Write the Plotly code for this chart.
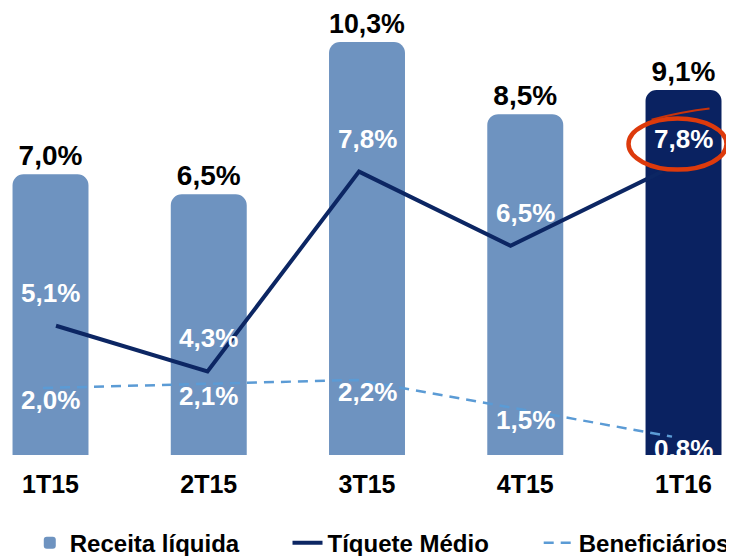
import plotly.graph_objects as go

categories = ["1T15", "2T15", "3T15", "4T15", "1T16"]
receita_liquida = [7.0, 6.5, 10.3, 8.5, 9.1]
tiquete_medio = [5.1, 4.3, 7.8, 6.5, 7.8]
beneficiarios = [2.0, 2.1, 2.2, 1.5, 0.8]

FONT = "Liberation Sans, Arial, sans-serif"
LIGHT_BAR = "#6e93c0"
DARK_BAR = "#0a2261"
NAVY = "#0c2663"
DASH_BLUE = "#5b9bd5"

def fmt(v):
    return f"{v:.1f}".replace(".", ",") + "%"

bar_colors = [LIGHT_BAR] * (len(categories) - 1) + [DARK_BAR]

fig = go.Figure()

fig.add_trace(go.Bar(
    x=categories, y=receita_liquida, name="Receita líquida",
    marker=dict(color=bar_colors, cornerradius=11, line=dict(width=0)),
    width=0.48,
    text=[fmt(v) for v in receita_liquida], textposition="outside",
    textfont=dict(family=FONT, size=28, color="black", weight="bold"),
    cliponaxis=False, xaxis="x", yaxis="y", legend="legend",
))

fig.add_trace(go.Scatter(
    x=categories, y=tiquete_medio, name="Tíquete Médio", mode="lines",
    line=dict(color=NAVY, width=4),
    xaxis="x2", yaxis="y2", legend="legend2",
))

fig.add_trace(go.Scatter(
    x=categories, y=beneficiarios, name="Beneficiários", mode="lines",
    line=dict(color=DASH_BLUE, width=2.5, dash="10px,7px"),
    xaxis="x3", yaxis="y3", legend="legend3",
))

annotations = []
for c, v in zip(categories, tiquete_medio):
    annotations.append(dict(
        x=c, y=v, xref="x", yref="y2", yshift=33, text=fmt(v), showarrow=False,
        font=dict(family=FONT, size=26, color="white", weight="bold"),
    ))
for c, v in zip(categories, beneficiarios):
    annotations.append(dict(
        x=c, y=v, xref="x", yref="y3", yshift=-12, text=fmt(v), showarrow=False,
        font=dict(family=FONT, size=26, color="white", weight="bold"),
    ))

last = len(categories) - 1
shapes = [
    dict(type="circle", xref="x", yref="y2",
         xsizemode="pixel", ysizemode="pixel",
         xanchor=last, yanchor=tiquete_medio[-1],
         x0=-55, x1=43, y0=2, y1=53,
         line=dict(color="#dd3a0c", width=4.5), layer="above"),
    dict(type="path", xref="x", yref="y2",
         xsizemode="pixel", ysizemode="pixel",
         xanchor=last, yanchor=tiquete_medio[-1],
         path="M-32,52 Q0,60 26,63",
         line=dict(color="#c8330a", width=2), layer="above"),
]

legend_common = dict(orientation="h", yanchor="middle", xanchor="left", y=-0.197,
                     font=dict(family=FONT, size=24, color="black", weight="bold"),
                     bgcolor="rgba(0,0,0,0)", itemwidth=30)

fig.update_layout(
    width=726, height=548, autosize=False,
    margin=dict(l=0, r=0, t=0, b=101, autoexpand=False),
    paper_bgcolor="white", plot_bgcolor="white",
    separators=",.",
    showlegend=True,
    legend=dict(legend_common, x=0.030),
    legend2=dict(legend_common, x=0.385),
    legend3=dict(legend_common, x=0.731),
    xaxis=dict(type="category", categoryarray=categories, range=[-0.2686, 4.319],
               showgrid=False, zeroline=False, showline=False, ticks="",
               tickfont=dict(family=FONT, size=25, color="black", weight="bold"),
               ticklabelstandoff=12, fixedrange=True, automargin=False),
    yaxis=dict(range=[0, 11.147], visible=False, fixedrange=True),
    xaxis2=dict(type="category", categoryarray=categories, range=[-0.3168, 4.475],
                overlaying="x", visible=False),
    yaxis2=dict(range=[2.837, 10.665], overlaying="y", visible=False),
    xaxis3=dict(type="category", categoryarray=categories, range=[-0.2226, 4.394],
                overlaying="x", visible=False),
    yaxis3=dict(range=[0.346, 11.383], overlaying="y", visible=False),
    annotations=annotations,
    shapes=shapes,
)

fig.write_html("out.html")
